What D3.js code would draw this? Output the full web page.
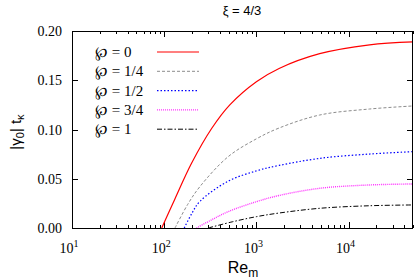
<!DOCTYPE html>
<html>
<head>
<meta charset="utf-8">
<script src="https://cdn.jsdelivr.net/npm/d3@7"></script>
<style>
  body { margin: 0; background: #fff; }
  svg text { fill: #000; }
</style>
</head>
<body>
<div id="chart"></div>
<script>
// data
var seriesNames = ['\u2118 = 0', '\u2118 = 1/4', '\u2118 = 1/2', '\u2118 = 3/4', '\u2118 = 1'];
var re0 = [94, 130, 198, 327, 515, 1000, 1763, 4860, 16900, 50000];
var g0 = [0, 0.029, 0.0657, 0.101, 0.125, 0.1485, 0.162, 0.177, 0.186, 0.189];
var re1 = [131, 180, 244, 494, 1000, 1763, 4860, 16900, 50000];
var g1 = [0, 0.024, 0.042, 0.0724, 0.0905, 0.1015, 0.1147, 0.1208, 0.1239];
var re2 = [165, 200, 244, 494, 1000, 1763, 4860, 16900, 50000];
var g2 = [0, 0.015, 0.027, 0.0475, 0.058, 0.0635, 0.0707, 0.0751, 0.0775];
var re3 = [224, 330, 494, 1000, 1763, 4860, 16900, 50000];
var g3 = [0, 0.0085, 0.0166, 0.0267, 0.033, 0.0403, 0.0437, 0.0447];
var re4 = [300, 555, 1000, 1763, 4860, 16900, 50000];
var g4 = [0, 0.0064, 0.0115, 0.0152, 0.02, 0.0226, 0.0234];
var yTicks = [0, 0.05, 0.10, 0.15, 0.20];
var xTicks = [10, 100, 1000, 10000];

var width = 415, height = 279;
var margin = { top: 31, right: 2, bottom: 51, left: 72 };

var styles = [
    { color: '#ff0000', dash: null, w: 1.2 },
    { color: '#8c8c8c', dash: '3,2', w: 1 },
    { color: '#0000ff', dash: '1.5,2', w: 1.2 },
    { color: '#ff33ff', dash: '1,1', w: 1.4 },
    { color: '#000000', dash: '5,2,1.5,2', w: 1 }
];

var series = [[re0, g0], [re1, g1], [re2, g2], [re3, g3], [re4, g4]].map(function (s, i) {
    return { name: seriesNames[i], pts: s[0].map(function (r, j) { return [r, s[1][j]]; }) };
});

var svg = d3.select('#chart').append('svg')
    .attr('width', width)
    .attr('height', height);

var x = d3.scaleLog()
    .domain([10, 50000])
    .range([margin.left, width - margin.right]);

var y = d3.scaleLinear()
    .domain([0, 0.2])
    .range([height - margin.bottom, margin.top]);

var x0 = margin.left, x1 = width - margin.right;
var y0 = height - margin.bottom, y1 = margin.top;

// minor ticks for the log axis
var minor = [];
for (var d = 10; d <= 10000; d *= 10) {
    for (var k = 2; k <= 9; k++) {
        if (d * k <= 50000) minor.push(d * k);
    }
}

var ticks = svg.append('g').attr('stroke', '#000').attr('stroke-width', 1);
minor.forEach(function (v) {
    var px = Math.round(x(v)) + 0.5;
    ticks.append('line').attr('x1', px).attr('x2', px).attr('y1', y0).attr('y2', y0 - 3);
    ticks.append('line').attr('x1', px).attr('x2', px).attr('y1', y1).attr('y2', y1 + 3);
});
xTicks.forEach(function (v) {
    var px = Math.round(x(v)) + 0.5;
    ticks.append('line').attr('x1', px).attr('x2', px).attr('y1', y0).attr('y2', y0 - 6);
    ticks.append('line').attr('x1', px).attr('x2', px).attr('y1', y1).attr('y2', y1 + 6);
});
yTicks.forEach(function (v) {
    var py = Math.round(y(v)) + 0.5;
    ticks.append('line').attr('x1', x0).attr('x2', x0 + 6).attr('y1', py).attr('y2', py);
    ticks.append('line').attr('x1', x1).attr('x2', x1 - 6).attr('y1', py).attr('y2', py);
});

// tick labels
svg.append('g').selectAll('text')
    .data(yTicks)
    .join('text')
    .attr('x', 62)
    .attr('y', function (d) { return y(d) + 5; })
    .attr('text-anchor', 'end')
    .style('font-family', 'Liberation Serif, serif')
    .style('font-size', '14px')
    .text(function (d) { return d3.format('.2f')(d); });

var xl = svg.append('g').selectAll('text')
    .data(xTicks)
    .join('text')
    .attr('x', function (d) { return x(d) - 3; })
    .attr('y', 253)
    .attr('text-anchor', 'middle')
    .style('font-family', 'Liberation Serif, serif')
    .style('font-size', '14px');
xl.append('tspan').text('10');
xl.append('tspan')
    .attr('dy', -6)
    .style('font-size', '10px')
    .text(function (d) { return Math.round(Math.log10(d)); });

// curves
var line = d3.line()
    .x(function (d) { return x(d[0]); })
    .y(function (d) { return y(d[1]); })
    .curve(d3.curveCatmullRom.alpha(0.5));

svg.append('defs').append('clipPath').attr('id', 'clip')
    .append('rect').attr('x', x0).attr('y', y1).attr('width', x1 - x0).attr('height', y0 - y1);

svg.append('g').attr('clip-path', 'url(#clip)')
    .selectAll('path')
    .data(series)
    .join('path')
    .attr('d', function (d) { return line(d.pts); })
    .attr('fill', 'none')
    .attr('stroke', function (d, i) { return styles[i].color; })
    .attr('stroke-width', function (d, i) { return styles[i].w; })
    .attr('stroke-dasharray', function (d, i) { return styles[i].dash; });

// frame
svg.append('rect')
    .attr('x', x0 + 0.5).attr('y', y1 + 0.5)
    .attr('width', x1 - x0 - 1).attr('height', y0 - y1)
    .attr('fill', 'none')
    .attr('stroke', '#000')
    .attr('stroke-width', 1);

// legend
var leg = svg.append('g');
series.forEach(function (s, i) {
    var ly = 52 + i * 19.3;
    leg.append('text')
        .attr('x', 95)
        .attr('y', ly + 5)
        .style('font-family', 'Liberation Serif, serif')
        .style('font-size', '15px')
        .text(s.name);
    leg.append('line')
        .attr('x1', 157).attr('x2', 199)
        .attr('y1', ly).attr('y2', ly)
        .attr('stroke', styles[i].color)
        .attr('stroke-width', styles[i].w)
        .attr('stroke-dasharray', styles[i].dash);
});

// titles
svg.append('text')
    .attr('x', 242)
    .attr('y', 15)
    .attr('text-anchor', 'middle')
    .style('font-family', 'Liberation Sans, sans-serif')
    .style('font-size', '13px')
    .text('\u03be = 4/3');

var xt = svg.append('text')
    .attr('x', 243)
    .attr('y', 273)
    .attr('text-anchor', 'middle')
    .style('font-family', 'Liberation Sans, sans-serif')
    .style('font-size', '16px');
xt.append('tspan').text('Re');
xt.append('tspan').attr('dy', 4).style('font-size', '12px').text('m');

var yt = svg.append('text')
    .attr('transform', 'translate(21,' + 132 + ') rotate(-90)')
    .attr('text-anchor', 'middle')
    .style('font-family', 'Liberation Sans, sans-serif')
    .style('font-size', '15px');
yt.append('tspan').text('|\u03b3');
yt.append('tspan').attr('dy', 3).style('font-size', '11px').text('0');
yt.append('tspan').attr('dy', -3).text('| t');
yt.append('tspan').attr('dy', 3).style('font-size', '11px').text('\u03ba');
</script>
</body>
</html>
